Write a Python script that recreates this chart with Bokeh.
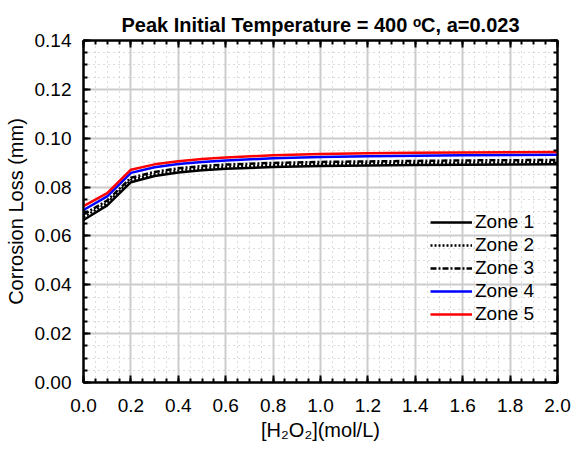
from bokeh.plotting import figure
from bokeh.models import (Range1d, SingleIntervalTicker, NumeralTickFormatter,
                          LinearAxis, Legend, LegendItem, CustomJSTickFormatter)
from bokeh.embed import file_html
from bokeh.resources import INLINE

h2o2 = [0.0, 0.1, 0.2, 0.3, 0.4, 0.5, 0.6, 0.8, 1.0, 1.2, 1.4, 1.6, 1.8, 2.0]
zone1 = [0.0665, 0.0725, 0.0820, 0.0845, 0.0860, 0.0869, 0.0875, 0.0882, 0.0886, 0.0888, 0.0890, 0.0891, 0.0892, 0.0893]
zone2 = [0.0677, 0.0735, 0.0829, 0.0853, 0.0868, 0.0877, 0.0883, 0.0890, 0.0894, 0.0897, 0.0899, 0.0900, 0.0901, 0.0902]
zone3 = [0.0688, 0.0745, 0.0838, 0.0862, 0.0877, 0.0886, 0.0892, 0.0899, 0.0903, 0.0905, 0.0907, 0.0909, 0.0910, 0.0911]
zone4 = [0.0706, 0.0762, 0.0858, 0.0881, 0.0894, 0.0903, 0.0909, 0.0918, 0.0923, 0.0926, 0.0928, 0.0930, 0.0931, 0.0932]
zone5 = [0.0722, 0.0775, 0.0871, 0.0893, 0.0906, 0.0915, 0.0921, 0.0930, 0.0935, 0.0938, 0.0940, 0.0942, 0.0943, 0.0944]
zone_names = ["Zone 1", "Zone 2", "Zone 3", "Zone 4", "Zone 5"]

FONT = "Liberation Sans"

p = figure(width=576, height=453, output_backend="svg", toolbar_location=None,
           x_range=Range1d(0, 2.0), y_range=Range1d(0, 0.14),
           min_border_left=83, min_border_right=19, min_border_top=40,
           min_border_bottom=71)
p.title.text = "Peak Initial Temperature = 400 \u1d52C, a=0.023"
p.title.align = "center"
p.title.text_font = FONT
p.title.text_font_size = "20px"
p.title.text_font_style = "bold"
p.title.text_color = "black"
p.title.offset = 0

p.outline_line_color = "black"
p.outline_line_width = 2
p.background_fill_color = "white"
p.border_fill_color = "white"

xt = SingleIntervalTicker(interval=0.2, num_minor_ticks=4)
yt = SingleIntervalTicker(interval=0.02, num_minor_ticks=4)

for ax in p.xaxis:
    ax.ticker = xt
for ax in p.yaxis:
    ax.ticker = yt
p.xaxis.formatter = NumeralTickFormatter(format="0.0")
p.yaxis.formatter = NumeralTickFormatter(format="0.00")

def style_axis(ax):
    ax.axis_line_color = "black"
    ax.axis_line_width = 2
    ax.major_tick_in = 7
    ax.major_tick_out = 0
    ax.minor_tick_in = 4
    ax.minor_tick_out = 0
    ax.major_tick_line_color = "black"
    ax.major_tick_line_width = 2
    ax.minor_tick_line_color = "black"
    ax.minor_tick_line_width = 2
    ax.major_label_text_font = FONT
    ax.major_label_text_font_size = "19px"
    ax.major_label_text_color = "black"
    ax.axis_label_text_font = FONT
    ax.axis_label_text_font_size = "20px"
    ax.axis_label_text_font_style = "normal"
    ax.axis_label_text_color = "black"

for ax in p.xaxis + p.yaxis:
    style_axis(ax)
p.xaxis.axis_label = "[H\u2082O\u2082](mol/L)"
p.yaxis.axis_label = "Corrosion Loss (mm)"
p.xaxis.major_label_standoff = 16
p.yaxis.major_label_standoff = 12
p.xaxis.axis_label_standoff = 4
p.yaxis.axis_label_standoff = 5

blank = CustomJSTickFormatter(code="return '';")
top = LinearAxis(ticker=SingleIntervalTicker(interval=0.2, num_minor_ticks=4),
                 formatter=blank)
right = LinearAxis(ticker=SingleIntervalTicker(interval=0.02, num_minor_ticks=4),
                   formatter=blank)
for ax in (top, right):
    style_axis(ax)
    ax.major_label_standoff = 0
p.add_layout(top, "above")
p.add_layout(right, "right")

for g in (p.xgrid, p.ygrid):
    g.grid_line_color = "#cccccc"
    g.grid_line_width = 2
    g.minor_grid_line_color = "#b8b8b8"
    g.minor_grid_line_width = 1
    g.minor_grid_line_dash = "1 4"

styles = [
    dict(line_color="black", line_dash="solid"),
    dict(line_color="black", line_dash="2 2"),
    dict(line_color="black", line_dash="6 2 2 2"),
    dict(line_color="blue", line_dash="solid"),
    dict(line_color="red", line_dash="solid"),
]
series = [zone1, zone2, zone3, zone4, zone5]
items = []
for name, ys, st in zip(zone_names, series, styles):
    r = p.line(h2o2, ys, line_width=2.5, **st)
    items.append(LegendItem(label=name, renderers=[r]))

legend = Legend(items=items, location=(347, 57))
legend.background_fill_alpha = 0
legend.border_line_alpha = 0
legend.label_text_font = FONT
legend.label_text_font_size = "19px"
legend.label_text_color = "black"
legend.glyph_width = 42
legend.glyph_height = 20
legend.label_standoff = 3
legend.spacing = 1
legend.padding = 0
legend.margin = 0
p.add_layout(legend, "center")

open("out.html", "w").write(file_html(p, INLINE))
